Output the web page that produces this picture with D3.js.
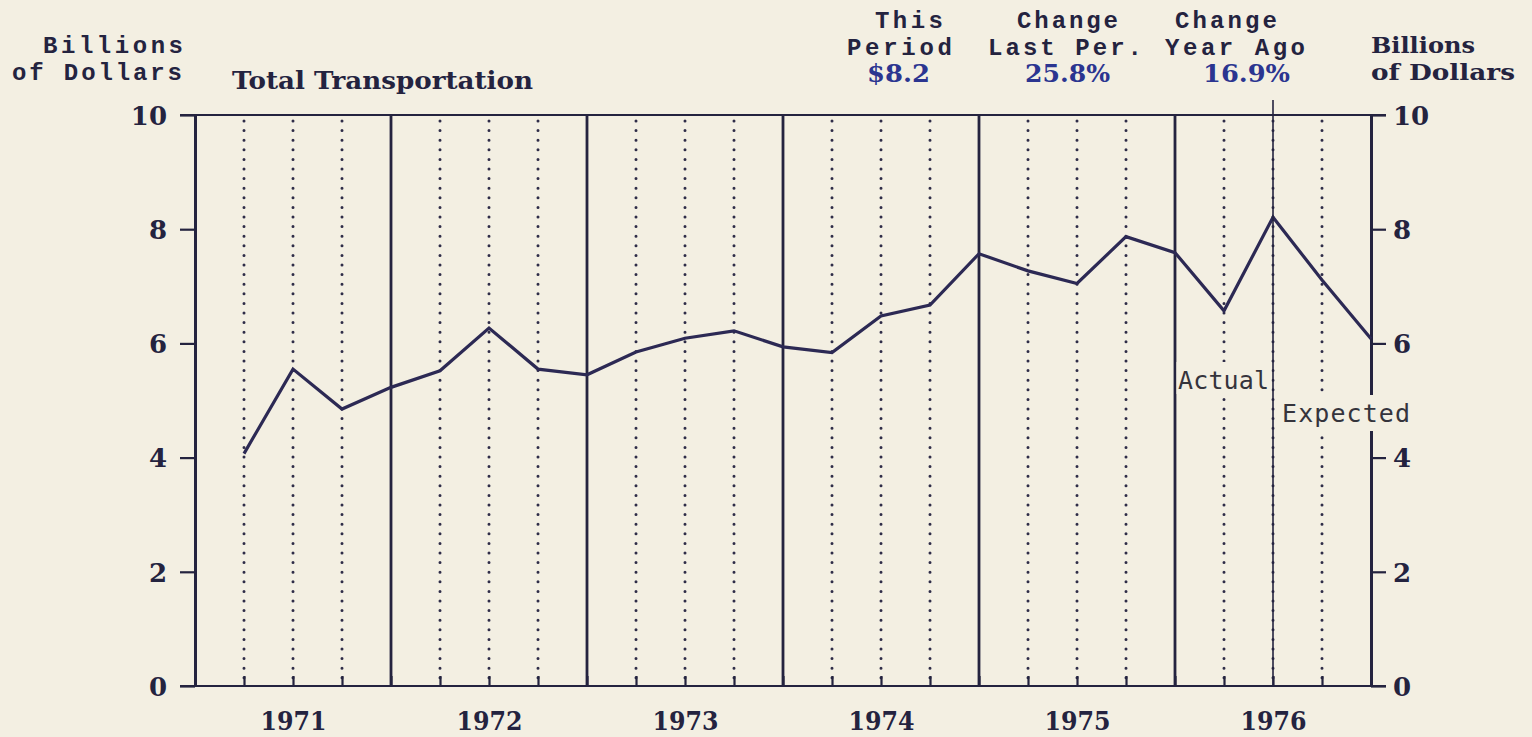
<!DOCTYPE html>
<html><head><meta charset="utf-8">
<script src="https://cdn.jsdelivr.net/npm/d3@7"></script>
<style>
html,body{margin:0;padding:0;background:#f3efe2;}
svg{display:block;}
</style></head>
<body>
<svg id="chart" width="1532" height="737"></svg>
<script>
// ---------------- data ----------------
const years = ["1971", "1972", "1973", "1974", "1975", "1976"];
const quartersPerYear = 4;
const values = [4.07, 5.55, 4.85, 5.23, 5.52, 6.27, 5.55, 5.45,
                5.85, 6.09, 6.22, 5.94, 5.84, 6.48, 6.67, 7.57,
                7.27, 7.05, 7.87, 7.59, 6.57, 8.21, 7.11, 6.08];
const yTicks = [0, 2, 4, 6, 8, 10];
const currentPeriod = 22;          // quarter boundary index of "this period"
const unitLabel = ["Billions", "of Dollars"];
const chartTitle = "Total Transportation";
const statTitles = [["This", "Period"], ["Change", "Last Per."], ["Change", "Year Ago"]];
const statValues = ["$8.2", "25.8%", "16.9%"];
const actualLabel = "Actual";
const expectedLabel = "Expected";

// ---------------- layout ----------------
const W = 1532, H = 737;
const mLeft = 195, mRight = 1371, mTop = 115, mBottom = 686;
const bg = "#f3efe2", ink = "#24233f", blue = "#2b3590";
const monoFont = "'Liberation Mono', 'DejaVu Sans Mono', monospace";
const serifFont = "'DejaVu Serif', 'Liberation Serif', serif";

const svg = d3.select("#chart");
svg.append("rect").attr("width", W).attr("height", H).attr("fill", bg);

const nQ = years.length * quartersPerYear;
const x = d3.scaleLinear().domain([0, nQ]).range([mLeft, mRight]);
const y = d3.scaleLinear().domain([0, 10]).range([mBottom, mTop]);

// dotted quarter lines and solid year lines
const qIdx = d3.range(1, nQ);
svg.append("g").selectAll("line")
  .data(qIdx.filter(q => q % quartersPerYear !== 0))
  .join("line")
  .attr("x1", d => x(d)).attr("x2", d => x(d))
  .attr("y1", y(10) + 6).attr("y2", y(0))
  .attr("stroke", "#2e2c48").attr("stroke-width", 3)
  .attr("stroke-linecap", "round").attr("stroke-dasharray", "0 9.6");

svg.append("g").selectAll("line")
  .data(qIdx.filter(q => q % quartersPerYear === 0))
  .join("line")
  .attr("x1", d => x(d)).attr("x2", d => x(d))
  .attr("y1", y(10)).attr("y2", y(0))
  .attr("stroke", ink).attr("stroke-width", 2.8);

// inward quarter ticks at the bottom
const bAxis = svg.append("g").attr("transform", `translate(0,${y(0)})`)
  .call(d3.axisBottom(x).tickValues(qIdx).tickSize(-10).tickFormat(""));
bAxis.select(".domain").remove();
bAxis.selectAll("line").attr("stroke", ink).attr("stroke-width", 2.2);

// year labels
const yearAxis = svg.append("g").attr("transform", `translate(0,${y(0)})`)
  .call(d3.axisBottom(x)
    .tickValues(years.map((d, i) => i * quartersPerYear + quartersPerYear / 2))
    .tickSize(0).tickFormat((d, i) => years[i]));
yearAxis.select(".domain").remove();
yearAxis.selectAll("text").attr("y", 44).attr("dy", 0)
  .attr("font-family", serifFont).attr("font-weight", "bold")
  .attr("font-size", 26).attr("fill", ink)
  .attr("textLength", 66).attr("lengthAdjust", "spacingAndGlyphs");

// left & right axes
function styleAxis(g) {
  g.select(".domain").attr("stroke", ink).attr("stroke-width", 3);
  g.selectAll(".tick line").attr("stroke", ink).attr("stroke-width", 2.2);
  g.selectAll("text").attr("font-family", serifFont).attr("font-weight", "bold")
    .attr("font-size", 26).attr("fill", ink).attr("dy", "0.36em");
}
const lAxis = svg.append("g").attr("transform", `translate(${mLeft},0)`)
  .call(d3.axisLeft(y).tickValues(yTicks).tickSize(15).tickSizeOuter(0).tickPadding(13));
styleAxis(lAxis);
const rAxis = svg.append("g").attr("transform", `translate(${mRight},0)`)
  .call(d3.axisRight(y).tickValues(yTicks).tickSize(15).tickSizeOuter(0).tickPadding(7));
styleAxis(rAxis);

// top & bottom frame
[10, 0].forEach(v => {
  svg.append("line").attr("x1", mLeft - 15).attr("x2", mRight + 15)
    .attr("y1", y(v)).attr("y2", y(v))
    .attr("stroke", ink).attr("stroke-width", 2.2);
});

// data line
const line = d3.line().x((d, i) => x(i + 1)).y(d => y(d));
svg.append("path").datum(values).attr("d", line)
  .attr("fill", "none").attr("stroke", "#2c2954").attr("stroke-width", 3.2)
  .attr("stroke-linejoin", "miter");

// text helper
function txt(str, x0, base, opts) {
  const t = svg.append("text").text(str).attr("x", x0).attr("y", base)
    .attr("font-family", opts.font).attr("font-size", opts.size)
    .attr("font-weight", opts.weight || "bold").attr("fill", opts.fill || ink);
  if (opts.w) t.attr("textLength", opts.w).attr("lengthAdjust", opts.adj || "spacing");
  return t;
}

// Actual / Expected labels with background boxes
svg.append("rect").attr("x", x(20) + 1.5).attr("y", 362).attr("width", 95).attr("height", 32).attr("fill", bg);
svg.append("rect").attr("x", x(22) + 5).attr("y", 395).attr("width", 135).attr("height", 36).attr("fill", bg);
txt(actualLabel, x(20) + 3, 389, {font: "'DejaVu Sans Mono', monospace", size: 25, weight: "normal", fill: "#35343c", w: 91});
txt(expectedLabel, x(22) + 9, 422, {font: "'DejaVu Sans Mono', monospace", size: 25, weight: "normal", fill: "#35343c", w: 128});

// current period marker
svg.append("line").attr("x1", x(currentPeriod)).attr("x2", x(currentPeriod))
  .attr("y1", 100).attr("y2", y(0)).attr("stroke", ink).attr("stroke-width", 1.6);

// header texts
const mono = 24;
txt(unitLabel[0], 43, 53, {font: monoFont, size: mono, w: 140});
txt(unitLabel[1], 12, 80, {font: monoFont, size: mono, w: 170});
txt(chartTitle, 232, 89, {font: serifFont, size: 25, w: 301, adj: "spacingAndGlyphs"});

const colTitleX = [[875, 847], [1017, 988], [1175, 1165]];
const colTitleW = [[68, 105], [101, 154], [102, 140]];
const colValX = [867, 1025, 1203];
const colValW = [63, 85, 87];
statTitles.forEach((rows, c) => {
  txt(rows[0], colTitleX[c][0], 28, {font: monoFont, size: mono, w: colTitleW[c][0]});
  txt(rows[1], colTitleX[c][1], 55, {font: monoFont, size: mono, w: colTitleW[c][1]});
  txt(statValues[c], colValX[c], 82, {font: serifFont, size: 24, fill: blue, w: colValW[c], adj: "spacingAndGlyphs"});
});

txt(unitLabel[0], mRight, 53, {font: serifFont, size: 23, w: 104, adj: "spacingAndGlyphs"});
txt(unitLabel[1], mRight, 80, {font: serifFont, size: 23, w: 144, adj: "spacingAndGlyphs"});
</script>
</body></html>
